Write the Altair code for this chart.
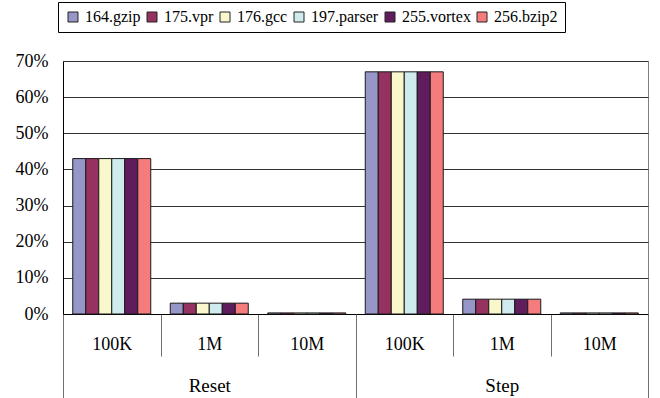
import altair as alt
import pandas as pd

# Benchmarks and their bar colours
benchmarks = ["164.gzip", "175.vpr", "176.gcc", "197.parser", "255.vortex", "256.bzip2"]
bar_colors = ["#9696C8", "#963260", "#FAF7CC", "#CFEBEE", "#5F1D5E", "#F47C7C"]

# Two-level category axis: policy, then interval size
modes = ["Reset", "Step"]
sizes = ["100K", "1M", "10M"]

# Fraction per benchmark, ordered Reset 100K/1M/10M then Step 100K/1M/10M
gzip_vals = [0.43, 0.030, 0.003, 0.67, 0.041, 0.003]
vpr_vals = [0.43, 0.030, 0.003, 0.67, 0.041, 0.003]
gcc_vals = [0.43, 0.030, 0.003, 0.67, 0.041, 0.003]
parser_vals = [0.43, 0.030, 0.003, 0.67, 0.041, 0.003]
vortex_vals = [0.43, 0.030, 0.003, 0.67, 0.041, 0.003]
bzip2_vals = [0.43, 0.030, 0.003, 0.67, 0.041, 0.003]
series_vals = [gzip_vals, vpr_vals, gcc_vals, parser_vals, vortex_vals, bzip2_vals]

slots = [f"{m} {s}" for m in modes for s in sizes]

rows = []
for name, vals in zip(benchmarks, series_vals):
    for slot, v in zip(slots, vals):
        rows.append({"slot": slot, "benchmark": name, "rate": v})
df = pd.DataFrame(rows)

FONT = "Liberation Serif"

bars = alt.Chart(df).mark_bar(stroke="#1a1a1a", strokeWidth=1).encode(
    x=alt.X(
        "slot:N",
        sort=slots,
        scale=alt.Scale(domain=slots, paddingInner=0, paddingOuter=0),
        axis=alt.Axis(
            title=None,
            orient="bottom",
            labelExpr="split(datum.label, ' ')[1]",
            labelAngle=0,
            tickBand="extent",
            tickSize=42,
            tickColor="#707070",
            tickWidth=1,
            labelPadding=-21,
            labelFontSize=18,
            domainColor="black",
            domainWidth=1,
        ),
    ),
    xOffset=alt.XOffset(
        "benchmark:N",
        sort=benchmarks,
        scale=alt.Scale(domain=benchmarks, paddingInner=0, paddingOuter=0.75),
    ),
    y=alt.Y(
        "rate:Q",
        scale=alt.Scale(domain=[0, 0.7], nice=False),
        axis=alt.Axis(
            title=None,
            values=[0, 0.1, 0.2, 0.3, 0.4, 0.5, 0.6, 0.7],
            format=".0%",
            ticks=False,
            labelPadding=15,
            labelFontSize=18,
            domainColor="black",
            grid=True,
            gridColor="#333333",
            gridWidth=1,
        ),
    ),
    color=alt.Color(
        "benchmark:N",
        sort=benchmarks,
        scale=alt.Scale(domain=benchmarks, range=bar_colors),
        legend=alt.Legend(
            title=None,
            orient="none",
            legendX=-5,
            legendY=-59,
            direction="horizontal",
            symbolType="square",
            symbolSize=100,
            symbolStrokeColor="#222222",
            symbolStrokeWidth=1,
            labelFontSize=16,
            labelOffset=4,
            columnPadding=3,
            padding=7,
            strokeColor="black",
            fillColor="white",
        ),
    ),
)

groups = alt.Chart(pd.DataFrame({"mode": modes})).mark_text(text="").encode(
    x=alt.X(
        "mode:N",
        sort=modes,
        scale=alt.Scale(type="band", domain=modes, paddingInner=0, paddingOuter=0),
        axis=alt.Axis(
            title=None,
            orient="bottom",
            labelAngle=0,
            domain=False,
            tickBand="extent",
            tickSize=84,
            tickColor="#707070",
            tickWidth=1,
            labelPadding=-22,
            labelFontSize=19,
        ),
    )
)

chart = (
    alt.layer(bars, groups)
    .resolve_scale(x="independent")
    .properties(
        width=585,
        height=253,
        padding={"left": 63, "top": 61, "right": 12, "bottom": 84},
        autosize=alt.AutoSizeParams(type="none"),
        background="white",
    )
    .configure_view(stroke="#808080", strokeWidth=1)
    .configure_axis(labelFont=FONT, labelColor="black")
    .configure_legend(labelFont=FONT, labelColor="black")
)

chart.save("out.html", embed_options={"renderer": "svg", "actions": False})
